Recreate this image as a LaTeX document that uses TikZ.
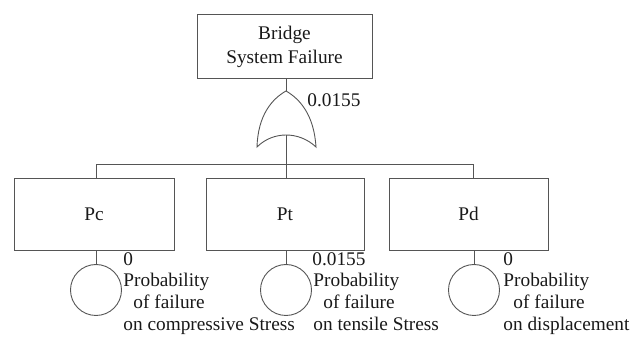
\documentclass[tikz,border=0pt]{standalone}
\usepackage{fontspec}
\setmainfont{Liberation Serif}
\newcommand{\labfont}{\fontsize{19.3}{22}\selectfont}
\newcommand{\topfont}{\fontsize{19.3}{24}\selectfont}
\definecolor{linec}{RGB}{85,85,85}
\definecolor{textc}{RGB}{25,25,25}
\begin{document}
\begin{tikzpicture}[x=1pt,y=-1pt,
  every path/.style={line width=0.9pt},
  box/.style={draw=linec,line width=0.9pt,inner sep=0pt,text=textc,font=\labfont},
  basic/.style={draw=linec,line width=0.9pt,circle,minimum size=51pt,inner sep=0pt},
  lab/.style={anchor=base west,inner sep=0pt,text=textc,font=\labfont},
  wire/.style={draw=linec,line width=0.9pt}]
\useasboundingbox (0,0) rectangle (641,339);
% top event
\node[box,minimum width=175pt,minimum height=64pt,align=center,font=\topfont] (top) at (284.5,46.5) {Bridge\\System Failure};
% OR gate
\coordinate (gtop) at (286,91);
\coordinate (gbl) at (257,147);
\coordinate (gbr) at (316,147);
\coordinate (gin) at (286,135);
\draw[wire] (gbl) .. controls (258,115) and (272,99) .. (gtop)
  .. controls (300,99) and (314,115) .. (gbr)
  .. controls (299,131) and (273,131) .. (gbl) -- cycle;
\node[lab] (gval) at (307,107) {0.0155};
\draw[wire] (top.south -| gtop) -- (gtop);
% intermediate boxes
\node[box,minimum width=160pt,minimum height=72pt] (pc) at (94,214) {Pc};
\node[box,minimum width=158pt,minimum height=72pt] (pt) at (285,214) {Pt};
\node[box,minimum width=159pt,minimum height=72pt] (pd) at (468.5,214) {Pd};
% basic events
\node[basic] (cc) at (96,290) {};
\node[basic] (ct) at (286,290) {};
\node[basic] (cd) at (474,290) {};
% bus
\coordinate (busL) at (96,164);
\coordinate (busR) at (473,164);
\draw[wire] (gin) -- (gin |- busL);
\draw[wire] (busL |- pc.north) -- (busL) -- (busR) -- (busR |- pd.north);
\draw[wire] (ct.north |- busL) -- (ct.north |- pt.north);
% box to circles
\draw[wire] (cc.north |- pc.south) -- (cc.north);
\draw[wire] (ct.north |- pt.south) -- (ct.north);
\draw[wire] (cd.north |- pd.south) -- (cd.north);
% labels
\node[lab] (vc) at (123,266) {0};
\node[lab] (lc1) at (123,287) {Probability};
\node[lab] (lc2) at (133,309) {of failure};
\node[lab] (lc3) at (123,331) {on compressive Stress};
\node[lab] (vt) at (312,266) {0.0155};
\node[lab] (lt1) at (313,287) {Probability};
\node[lab] (lt2) at (323,309) {of failure};
\node[lab] (lt3) at (313,331) {on tensile Stress};
\node[lab] (vd) at (503,266) {0};
\node[lab] (ld1) at (503,287) {Probability};
\node[lab] (ld2) at (513,309) {of failure};
\node[lab] (ld3) at (503,331) {on displacement};
\end{tikzpicture}
\end{document}
